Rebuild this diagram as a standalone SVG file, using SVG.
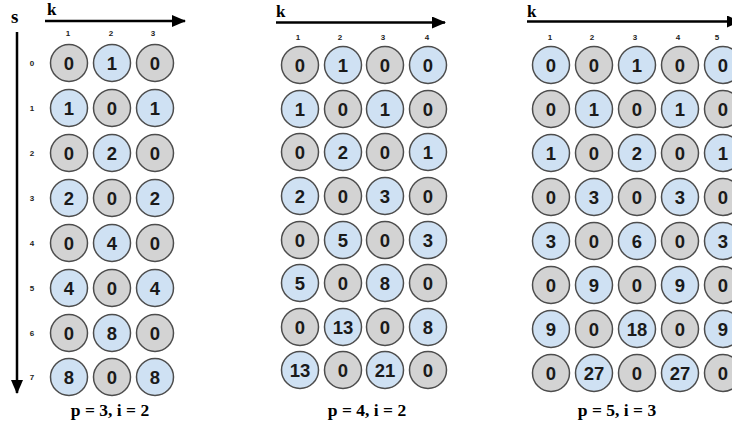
<svg xmlns="http://www.w3.org/2000/svg" width="732" height="427" viewBox="0 0 732 427">
<defs>
<style>
.g circle{fill:#d3d3d3;stroke:#4d4d4d;stroke-width:1.5}
.b circle{fill:#cfe1f3;stroke:#4d4d4d;stroke-width:1.5}
.n text{font-family:"Liberation Sans",Arial,sans-serif;font-weight:bold;font-size:18.5px;fill:#1a1a1a;text-anchor:middle}
.ax{stroke:#000;stroke-width:2.5;fill:none}
.lbl{font-family:"Liberation Serif","Times New Roman",serif;font-weight:bold;fill:#000}
.sm{font-family:"Liberation Sans",Arial,sans-serif;font-weight:bold;font-size:8px;fill:#222;text-anchor:middle}
.cap{font-family:"Liberation Serif","Times New Roman",serif;font-weight:bold;font-size:17.5px;fill:#000;text-anchor:middle}
</style>
<marker id="ah" markerUnits="userSpaceOnUse" markerWidth="14" markerHeight="12" refX="13" refY="6" orient="auto">
<path d="M0,0 L14,6 L0,12 Z" fill="#000"/>
</marker>
</defs>
<rect width="732" height="427" fill="#fff"/>

<g id="connectors">
<line class="ax" x1="45" y1="21" x2="185" y2="21" marker-end="url(#ah)"/>
<line class="ax" x1="17" y1="32" x2="17" y2="393" marker-end="url(#ah)"/>
<line class="ax" x1="276" y1="22.5" x2="445" y2="22.5" marker-end="url(#ah)"/>
<line class="ax" x1="527" y1="21.5" x2="740" y2="21.5" marker-end="url(#ah)"/>
</g>

<g id="axis-labels">
<text class="lbl" x="47" y="15" font-size="17">k</text>
<text class="lbl" x="11" y="23" font-size="19">s</text>
<text class="lbl" x="276" y="17" font-size="17">k</text>
<text class="lbl" x="527" y="17" font-size="17">k</text>
<text class="sm" x="68" y="36">1</text><text class="sm" x="111" y="36">2</text><text class="sm" x="153" y="36">3</text>
<text class="sm" x="32" y="66">0</text><text class="sm" x="32" y="111">1</text><text class="sm" x="32" y="156">2</text><text class="sm" x="32" y="201">3</text>
<text class="sm" x="32" y="246">4</text><text class="sm" x="32" y="291">5</text><text class="sm" x="32" y="336">6</text><text class="sm" x="32" y="380">7</text>
<text class="sm" x="298" y="40">1</text><text class="sm" x="340" y="40">2</text><text class="sm" x="383" y="40">3</text><text class="sm" x="427" y="40">4</text>
<text class="sm" x="550" y="40">1</text><text class="sm" x="592" y="40">2</text><text class="sm" x="635" y="40">3</text><text class="sm" x="678" y="40">4</text><text class="sm" x="717" y="40">5</text>
<text class="cap" x="110" y="416">p = 3, i = 2</text>
<text class="cap" x="367" y="416">p = 4, i = 2</text>
<text class="cap" x="617" y="416">p = 5, i = 3</text>
</g>

<g id="panel-p3">
<g id="a-r0c1" class="n g"><circle cx="69" cy="63" r="18.5"/><text x="69" y="69.5">0</text></g>
<g id="a-r0c2" class="n b"><circle cx="112" cy="63" r="18.5"/><text x="112" y="69.5">1</text></g>
<g id="a-r0c3" class="n g"><circle cx="155" cy="63" r="18.5"/><text x="155" y="69.5">0</text></g>
<g id="a-r1c1" class="n b"><circle cx="69" cy="108" r="18.5"/><text x="69" y="114.5">1</text></g>
<g id="a-r1c2" class="n g"><circle cx="112" cy="108" r="18.5"/><text x="112" y="114.5">0</text></g>
<g id="a-r1c3" class="n b"><circle cx="155" cy="108" r="18.5"/><text x="155" y="114.5">1</text></g>
<g id="a-r2c1" class="n g"><circle cx="69" cy="153" r="18.5"/><text x="69" y="159.5">0</text></g>
<g id="a-r2c2" class="n b"><circle cx="112" cy="153" r="18.5"/><text x="112" y="159.5">2</text></g>
<g id="a-r2c3" class="n g"><circle cx="155" cy="153" r="18.5"/><text x="155" y="159.5">0</text></g>
<g id="a-r3c1" class="n b"><circle cx="69" cy="198" r="18.5"/><text x="69" y="204.5">2</text></g>
<g id="a-r3c2" class="n g"><circle cx="112" cy="198" r="18.5"/><text x="112" y="204.5">0</text></g>
<g id="a-r3c3" class="n b"><circle cx="155" cy="198" r="18.5"/><text x="155" y="204.5">2</text></g>
<g id="a-r4c1" class="n g"><circle cx="69" cy="243" r="18.5"/><text x="69" y="249.5">0</text></g>
<g id="a-r4c2" class="n b"><circle cx="112" cy="243" r="18.5"/><text x="112" y="249.5">4</text></g>
<g id="a-r4c3" class="n g"><circle cx="155" cy="243" r="18.5"/><text x="155" y="249.5">0</text></g>
<g id="a-r5c1" class="n b"><circle cx="69" cy="288" r="18.5"/><text x="69" y="294.5">4</text></g>
<g id="a-r5c2" class="n g"><circle cx="112" cy="288" r="18.5"/><text x="112" y="294.5">0</text></g>
<g id="a-r5c3" class="n b"><circle cx="155" cy="288" r="18.5"/><text x="155" y="294.5">4</text></g>
<g id="a-r6c1" class="n g"><circle cx="69" cy="333" r="18.5"/><text x="69" y="339.5">0</text></g>
<g id="a-r6c2" class="n b"><circle cx="112" cy="333" r="18.5"/><text x="112" y="339.5">8</text></g>
<g id="a-r6c3" class="n g"><circle cx="155" cy="333" r="18.5"/><text x="155" y="339.5">0</text></g>
<g id="a-r7c1" class="n b"><circle cx="69" cy="377" r="18.5"/><text x="69" y="383.5">8</text></g>
<g id="a-r7c2" class="n g"><circle cx="112" cy="377" r="18.5"/><text x="112" y="383.5">0</text></g>
<g id="a-r7c3" class="n b"><circle cx="155" cy="377" r="18.5"/><text x="155" y="383.5">8</text></g>
</g>

<g id="panel-p4">
<g id="b-r0c1" class="n g"><circle cx="300" cy="65" r="18.5"/><text x="300" y="71.5">0</text></g>
<g id="b-r0c2" class="n b"><circle cx="343" cy="65" r="18.5"/><text x="343" y="71.5">1</text></g>
<g id="b-r0c3" class="n g"><circle cx="385" cy="65" r="18.5"/><text x="385" y="71.5">0</text></g>
<g id="b-r0c4" class="n b"><circle cx="428" cy="65" r="18.5"/><text x="428" y="71.5">0</text></g>
<g id="b-r1c1" class="n b"><circle cx="300" cy="109" r="18.5"/><text x="300" y="115.5">1</text></g>
<g id="b-r1c2" class="n g"><circle cx="343" cy="109" r="18.5"/><text x="343" y="115.5">0</text></g>
<g id="b-r1c3" class="n b"><circle cx="385" cy="109" r="18.5"/><text x="385" y="115.5">1</text></g>
<g id="b-r1c4" class="n g"><circle cx="428" cy="109" r="18.5"/><text x="428" y="115.5">0</text></g>
<g id="b-r2c1" class="n g"><circle cx="300" cy="152" r="18.5"/><text x="300" y="158.5">0</text></g>
<g id="b-r2c2" class="n b"><circle cx="343" cy="152" r="18.5"/><text x="343" y="158.5">2</text></g>
<g id="b-r2c3" class="n g"><circle cx="385" cy="152" r="18.5"/><text x="385" y="158.5">0</text></g>
<g id="b-r2c4" class="n b"><circle cx="428" cy="152" r="18.5"/><text x="428" y="158.5">1</text></g>
<g id="b-r3c1" class="n b"><circle cx="300" cy="196" r="18.5"/><text x="300" y="202.5">2</text></g>
<g id="b-r3c2" class="n g"><circle cx="343" cy="196" r="18.5"/><text x="343" y="202.5">0</text></g>
<g id="b-r3c3" class="n b"><circle cx="385" cy="196" r="18.5"/><text x="385" y="202.5">3</text></g>
<g id="b-r3c4" class="n g"><circle cx="428" cy="196" r="18.5"/><text x="428" y="202.5">0</text></g>
<g id="b-r4c1" class="n g"><circle cx="300" cy="240" r="18.5"/><text x="300" y="246.5">0</text></g>
<g id="b-r4c2" class="n b"><circle cx="343" cy="240" r="18.5"/><text x="343" y="246.5">5</text></g>
<g id="b-r4c3" class="n g"><circle cx="385" cy="240" r="18.5"/><text x="385" y="246.5">0</text></g>
<g id="b-r4c4" class="n b"><circle cx="428" cy="240" r="18.5"/><text x="428" y="246.5">3</text></g>
<g id="b-r5c1" class="n b"><circle cx="300" cy="283" r="18.5"/><text x="300" y="289.5">5</text></g>
<g id="b-r5c2" class="n g"><circle cx="343" cy="283" r="18.5"/><text x="343" y="289.5">0</text></g>
<g id="b-r5c3" class="n b"><circle cx="385" cy="283" r="18.5"/><text x="385" y="289.5">8</text></g>
<g id="b-r5c4" class="n g"><circle cx="428" cy="283" r="18.5"/><text x="428" y="289.5">0</text></g>
<g id="b-r6c1" class="n g"><circle cx="300" cy="327" r="18.5"/><text x="300" y="333.5">0</text></g>
<g id="b-r6c2" class="n b"><circle cx="343" cy="327" r="18.5"/><text x="343" y="333.5">13</text></g>
<g id="b-r6c3" class="n g"><circle cx="385" cy="327" r="18.5"/><text x="385" y="333.5">0</text></g>
<g id="b-r6c4" class="n b"><circle cx="428" cy="327" r="18.5"/><text x="428" y="333.5">8</text></g>
<g id="b-r7c1" class="n b"><circle cx="300" cy="370" r="18.5"/><text x="300" y="376.5">13</text></g>
<g id="b-r7c2" class="n g"><circle cx="343" cy="370" r="18.5"/><text x="343" y="376.5">0</text></g>
<g id="b-r7c3" class="n b"><circle cx="385" cy="370" r="18.5"/><text x="385" y="376.5">21</text></g>
<g id="b-r7c4" class="n g"><circle cx="428" cy="370" r="18.5"/><text x="428" y="376.5">0</text></g>
</g>

<g id="panel-p5">
<g id="c-r0c1" class="n b"><circle cx="551" cy="65" r="18.5"/><text x="551" y="71.5">0</text></g>
<g id="c-r0c2" class="n g"><circle cx="594" cy="65" r="18.5"/><text x="594" y="71.5">0</text></g>
<g id="c-r0c3" class="n b"><circle cx="637" cy="65" r="18.5"/><text x="637" y="71.5">1</text></g>
<g id="c-r0c4" class="n g"><circle cx="680" cy="65" r="18.5"/><text x="680" y="71.5">0</text></g>
<g id="c-r0c5" class="n b"><circle cx="723" cy="65" r="18.5"/><text x="723" y="71.5">0</text></g>
<g id="c-r1c1" class="n g"><circle cx="551" cy="109" r="18.5"/><text x="551" y="115.5">0</text></g>
<g id="c-r1c2" class="n b"><circle cx="594" cy="109" r="18.5"/><text x="594" y="115.5">1</text></g>
<g id="c-r1c3" class="n g"><circle cx="637" cy="109" r="18.5"/><text x="637" y="115.5">0</text></g>
<g id="c-r1c4" class="n b"><circle cx="680" cy="109" r="18.5"/><text x="680" y="115.5">1</text></g>
<g id="c-r1c5" class="n g"><circle cx="723" cy="109" r="18.5"/><text x="723" y="115.5">0</text></g>
<g id="c-r2c1" class="n b"><circle cx="551" cy="153" r="18.5"/><text x="551" y="159.5">1</text></g>
<g id="c-r2c2" class="n g"><circle cx="594" cy="153" r="18.5"/><text x="594" y="159.5">0</text></g>
<g id="c-r2c3" class="n b"><circle cx="637" cy="153" r="18.5"/><text x="637" y="159.5">2</text></g>
<g id="c-r2c4" class="n g"><circle cx="680" cy="153" r="18.5"/><text x="680" y="159.5">0</text></g>
<g id="c-r2c5" class="n b"><circle cx="723" cy="153" r="18.5"/><text x="723" y="159.5">1</text></g>
<g id="c-r3c1" class="n g"><circle cx="551" cy="197" r="18.5"/><text x="551" y="203.5">0</text></g>
<g id="c-r3c2" class="n b"><circle cx="594" cy="197" r="18.5"/><text x="594" y="203.5">3</text></g>
<g id="c-r3c3" class="n g"><circle cx="637" cy="197" r="18.5"/><text x="637" y="203.5">0</text></g>
<g id="c-r3c4" class="n b"><circle cx="680" cy="197" r="18.5"/><text x="680" y="203.5">3</text></g>
<g id="c-r3c5" class="n g"><circle cx="723" cy="197" r="18.5"/><text x="723" y="203.5">0</text></g>
<g id="c-r4c1" class="n b"><circle cx="551" cy="241" r="18.5"/><text x="551" y="247.5">3</text></g>
<g id="c-r4c2" class="n g"><circle cx="594" cy="241" r="18.5"/><text x="594" y="247.5">0</text></g>
<g id="c-r4c3" class="n b"><circle cx="637" cy="241" r="18.5"/><text x="637" y="247.5">6</text></g>
<g id="c-r4c4" class="n g"><circle cx="680" cy="241" r="18.5"/><text x="680" y="247.5">0</text></g>
<g id="c-r4c5" class="n b"><circle cx="723" cy="241" r="18.5"/><text x="723" y="247.5">3</text></g>
<g id="c-r5c1" class="n g"><circle cx="551" cy="285" r="18.5"/><text x="551" y="291.5">0</text></g>
<g id="c-r5c2" class="n b"><circle cx="594" cy="285" r="18.5"/><text x="594" y="291.5">9</text></g>
<g id="c-r5c3" class="n g"><circle cx="637" cy="285" r="18.5"/><text x="637" y="291.5">0</text></g>
<g id="c-r5c4" class="n b"><circle cx="680" cy="285" r="18.5"/><text x="680" y="291.5">9</text></g>
<g id="c-r5c5" class="n g"><circle cx="723" cy="285" r="18.5"/><text x="723" y="291.5">0</text></g>
<g id="c-r6c1" class="n b"><circle cx="551" cy="329" r="18.5"/><text x="551" y="335.5">9</text></g>
<g id="c-r6c2" class="n g"><circle cx="594" cy="329" r="18.5"/><text x="594" y="335.5">0</text></g>
<g id="c-r6c3" class="n b"><circle cx="637" cy="329" r="18.5"/><text x="637" y="335.5">18</text></g>
<g id="c-r6c4" class="n g"><circle cx="680" cy="329" r="18.5"/><text x="680" y="335.5">0</text></g>
<g id="c-r6c5" class="n b"><circle cx="723" cy="329" r="18.5"/><text x="723" y="335.5">9</text></g>
<g id="c-r7c1" class="n g"><circle cx="551" cy="373" r="18.5"/><text x="551" y="379.5">0</text></g>
<g id="c-r7c2" class="n b"><circle cx="594" cy="373" r="18.5"/><text x="594" y="379.5">27</text></g>
<g id="c-r7c3" class="n g"><circle cx="637" cy="373" r="18.5"/><text x="637" y="379.5">0</text></g>
<g id="c-r7c4" class="n b"><circle cx="680" cy="373" r="18.5"/><text x="680" y="379.5">27</text></g>
<g id="c-r7c5" class="n g"><circle cx="723" cy="373" r="18.5"/><text x="723" y="379.5">0</text></g>
</g>
</svg>
